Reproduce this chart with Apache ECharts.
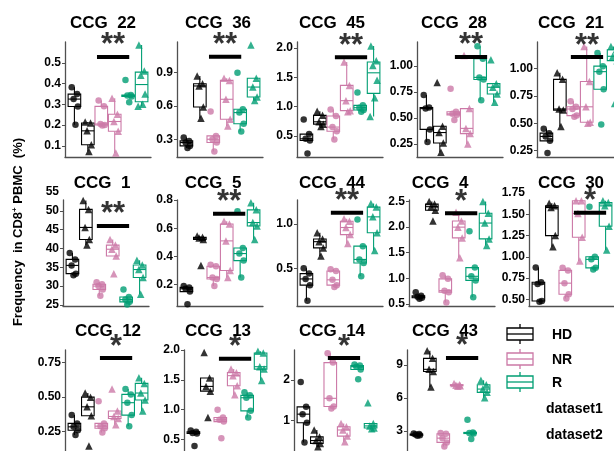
<!DOCTYPE html>
<html><head><meta charset="utf-8">
<script src="https://cdn.jsdelivr.net/npm/echarts@6/dist/echarts.min.js"></script>
<style>html,body{margin:0;padding:0;background:#fff}#c{width:614px;height:451px}</style>
</head><body><div id="c"></div>
<script>
// ---------------- DATA ----------------
const GROUPS = ['HD', 'NR', 'R'];
const DATASETS = ['dataset1', 'dataset2'];
const PANEL_TITLES = ['CCG  22','CCG  36','CCG  45','CCG  28','CCG  21',
                      'CCG  1','CCG  5','CCG  44','CCG  4','CCG  30',
                      'CCG  12','CCG  13','CCG  14','CCG  43'];
// order in each panel: HD d1, HD d2, NR d1, NR d2, R d1, R d2
const CCG22 = [[0.382,0.349,0.325,0.289,0.201],[0.215,0.21,0.172,0.105,0.073],[0.318,0.29,0.205,0.2,0.198],[0.329,0.252,0.217,0.17,0.065],[0.417,0.345,0.342,0.338,0.31],[0.586,0.46,0.44,0.35,0.3,0.29]];
const CCG36 = [[0.315,0.285,0.27,0.24,0.22],[0.87,0.8,0.78,0.59,0.49],[0.55,0.33,0.3,0.27,0.19],[0.85,0.83,0.66,0.48,0.42],[0.9,0.57,0.54,0.44,0.37],[1.15,0.85,0.77,0.68,0.65]];
const CCG45 = [[0.78,0.53,0.45,0.42,0.2],[0.92,0.85,0.74,0.7,0.66],[0.95,0.84,0.65,0.58,0.44],[1.76,1.36,1.1,0.93,0.91],[1.24,1.02,0.98,0.94,0.91],[2.03,1.78,1.7,1.45,1.15,0.83]];
const CCG28 = [[0.72,0.6,0.59,0.39,0.27],[0.84,0.42,0.36,0.26,0.17],[0.78,0.56,0.54,0.53,0.48],[1.1,0.59,0.40,0.35,0.25],[1.19,1.07,0.89,0.87,0.67],[1.06,0.83,0.795,0.73,0.65]];
const CCG21 = [[0.45,0.41,0.38,0.34,0.23],[0.96,0.9,0.63,0.62,0.47],[0.7,0.65,0.63,0.57,0.56],[1.2,0.88,0.65,0.51,0.5],[1.14,1.02,0.97,0.81,0.49],[1.2,1.17,1.11,1.07,0.68]];
const CCG1  = [[38.8,37.1,35.5,33.3,32.9],[52.8,50.4,45.6,42.4,40.9],[31,30.5,30,29.1,27.4],[42.4,40.9,39.8,38.0,33.3],[29.1,27.1,26.4,25.8,25.1],[36.9,35.6,34.4,32.3,27.8]];
const CCG5  = [[0.19,0.18,0.17,0.15,0.06],[0.545,0.535,0.53,0.52,0.335],[0.34,0.33,0.25,0.24,0.19],[0.65,0.63,0.51,0.3,0.25],[0.72,0.46,0.42,0.37,0.25],[0.78,0.73,0.64,0.616,0.52]];
const CCG44 = [[0.5,0.44,0.38,0.31,0.135],[0.9,0.83,0.8,0.73,0.64],[0.49,0.47,0.37,0.31,0.29],[1.06,1.03,0.96,0.88,0.78],[1.05,0.75,0.6,0.56,0.41],[1.23,1.19,1.08,0.9,0.7]];
const CCG4  = [[0.73,0.66,0.64,0.62,0.6],[2.5,2.45,2.4,2.33,2.12],[1.06,0.99,0.76,0.73,0.53],[2.29,2.12,2.0,1.79,1.4],[1.92,1.21,1.04,0.96,0.63],[2.5,2.27,2.08,1.77,1.64]];
const CCG30 = [[0.875,0.7,0.68,0.48,0.47],[1.63,1.6,1.58,1.25,1.12],[0.87,0.84,0.69,0.56,0.51],[1.66,1.66,1.51,1.23,0.95],[1.59,1.0,0.97,0.87,0.85],[1.66,1.64,1.6,1.36,1.08]];
const CCG12 = [[0.37,0.31,0.285,0.26,0.225],[0.53,0.5,0.43,0.365,0.146],[0.47,0.31,0.29,0.275,0.243],[0.56,0.4,0.36,0.345,0.3],[0.56,0.52,0.46,0.37,0.29],[0.64,0.6,0.53,0.48,0.4]];
const CCG13 = [[0.65,0.63,0.61,0.6,0.39],[1.96,1.53,1.39,1.31,0.87],[1.0,0.87,0.83,0.8,0.52],[1.68,1.62,1.57,1.4,1.25],[1.29,1.24,1.2,0.98,0.87],[1.98,1.95,1.72,1.68,1.49]];
const CCG14 = [[1.95,1.34,1.16,0.95,0.46],[0.77,0.6,0.51,0.44,0.36],[2.66,2.43,1.55,1.35,1.3],[0.93,0.85,0.77,0.62,0.48],[2.38,2.36,2.33,2.26,2.02],[1.44,0.93,0.87,0.82,0.8]];
const CCG43 = [[2.75,2.7,2.65,2.6,2.55],[10.3,9.6,8.6,8.4,7.0],[2.8,2.73,2.33,1.94,1.57],[7.3,7.2,7.15,7.1,7.05],[4.0,2.85,2.8,2.75,2.25],[7.6,7.2,6.8,6.5,6.0]];
const PANEL_DATA = [CCG22,CCG36,CCG45,CCG28,CCG21,CCG1,CCG5,CCG44,CCG4,CCG30,CCG12,CCG13,CCG14,CCG43];

const Y_MIN = [0.046,0.14,0.14,0.125,0.193, 24.7,0.048,0.075,0.46,0.421, 0.059,0.19,0.08,0.52];
const Y_MAX = [0.6,1.176,2.1,1.23,1.24, 52.9,0.8,1.27,2.53,1.669, 0.842,2.0,2.74,10.36];
const TICK_LABELS = [
  ['0.1','0.2','0.3','0.4','0.5'], ['0.3','0.6','0.9'], ['0.5','1.0','1.5','2.0'],
  ['0.25','0.50','0.75','1.00'], ['0.25','0.50','0.75','1.00'],
  ['25','30','35','40','45','50'], ['0.2','0.4','0.6','0.8'], ['0.5','1.0'],
  ['0.5','1.0','1.5','2.0','2.5'], ['0.50','0.75','1.00','1.25','1.50'],
  ['0.25','0.50','0.75'], ['0.5','1.0','1.5','2.0'], ['1','2'], ['3','6','9']
];
const EXTRA_TICK = [null,null,null,null,null,'55',null,null,null,'1.75',null,null,null,null];
const SIG_LABEL = ['**','**','**','**','**','**','**','**','*','*','*','*','*','*'];
const SIG_Y  = [0.528,1.044,1.84,1.087,1.103, 46,0.702,1.127,2.27,1.52, 0.784,1.855,2.54,9.64];
const SIG_X0 = [1.59,1.59,1.81,1.81,1.66, 1.66,1.74,1.66,1.74,2.07, 1.7,1.7,1.66,1.85];

// ---------------- LAYOUT / STYLE ----------------
const COLORS = {HD:'#000000', NR:'#CC79A7', R:'#009E73'};
const PANEL_LEFT = [65,177,297,417,537, 63,177,297,409,529, 65,184,294,407];
const TITLE_DX   = [38,41,35,37,34, 39,36,35,31,42, 43,34,38,38];
const PANEL_ROW  = [0,0,0,0,0, 1,1,1,1,1, 2,2,2,2];
const ROW_TOP = [42,200,350], ROW_BOTTOM = [157,306,458], ROW_TITLE_Y = [23,183,331];
const PANEL_W = 86;
const SUB_OFF = [-0.25, 0.25];
const JITTER = [-0.1, 0.1, -0.03, 0.13, 0.04, -0.13];
const SIG_LEN = 1.2;
const BOX_HALF = 6.3;
const FONT = "'Liberation Sans', Arial, Helvetica, sans-serif";
const AXIS_COLOR = '#505050';

function quant(s, p) { const h = (s.length - 1) * p, lo = Math.floor(h), hi = Math.min(lo + 1, s.length - 1); return s[lo] + (h - lo) * (s[hi] - s[lo]); }
function boxStats(vals) {
  const s = vals.slice().sort((a, b) => a - b);
  const q1 = quant(s, .25), med = quant(s, .5), q3 = quant(s, .75), iqr = q3 - q1;
  const lo = s.find(v => v >= q1 - 1.5 * iqr);
  const hi = s.slice().reverse().find(v => v <= q3 + 1.5 * iqr);
  return [lo, q1, med, q3, hi];
}
const COLOR_LIST = GROUPS.map(g => COLORS[g]);

function renderBox(params, api) {
  const x = api.value(0), col = COLOR_LIST[api.value(6)];
  const pLo = api.coord([x, api.value(1)]), pQ1 = api.coord([x, api.value(2)]);
  const pMed = api.coord([x, api.value(3)]), pQ3 = api.coord([x, api.value(4)]), pHi = api.coord([x, api.value(5)]);
  const cx = pMed[0];
  const ls = {stroke: col, lineWidth: 1.1};
  return {type: 'group', children: [
    {type: 'line', shape: {x1: cx, y1: pLo[1], x2: cx, y2: pQ1[1]}, style: ls},
    {type: 'line', shape: {x1: cx, y1: pQ3[1], x2: cx, y2: pHi[1]}, style: ls},
    {type: 'rect', shape: {x: cx - BOX_HALF, y: pQ3[1], width: 2 * BOX_HALF, height: pQ1[1] - pQ3[1]}, style: {fill: '#fff', stroke: col, lineWidth: 1.1}},
    {type: 'line', shape: {x1: cx - BOX_HALF, y1: pMed[1], x2: cx + BOX_HALF, y2: pMed[1]}, style: ls}
  ]};
}

const grids = [], xAxes = [], yAxes = [], series = [], graphics = [];
PANEL_DATA.forEach((pd, i) => {
  const r = PANEL_ROW[i];
  grids.push({left: PANEL_LEFT[i], top: ROW_TOP[r], width: PANEL_W, height: ROW_BOTTOM[r] - ROW_TOP[r], containLabel: false, outerBoundsMode: 'none'});
  xAxes.push({type: 'value', gridIndex: i, min: 0.4, max: 3.6,
    axisLine: {show: true, onZero: false, lineStyle: {color: AXIS_COLOR, width: 1.3}},
    axisTick: {show: false}, axisLabel: {show: false}, splitLine: {show: false}});
  const labels = TICK_LABELS[i];
  const vals = labels.map(Number);
  yAxes.push({type: 'value', gridIndex: i, min: Y_MIN[i], max: Y_MAX[i],
    axisLine: {show: true, onZero: false, lineStyle: {color: AXIS_COLOR, width: 1.3}},
    axisTick: {show: true, length: 3, customValues: vals, lineStyle: {color: AXIS_COLOR, width: 1}},
    axisLabel: {show: true, customValues: vals, margin: 4, color: '#000', fontSize: 12, fontWeight: 'bold', fontFamily: FONT,
      formatter: v => { const k = vals.findIndex(t => Math.abs(t - v) < 1e-9); return k >= 0 ? labels[k] : ''; }},
    splitLine: {show: false}});

  const boxData = [], pts = [];
  pd.forEach((arr, k) => {
    const g = Math.floor(k / 2), d = k % 2;
    const x = g + 1 + SUB_OFF[d];
    const col = COLORS[GROUPS[g]];
    boxData.push([x].concat(boxStats(arr), [g]));
    arr.forEach((v, j) => {
      pts.push({value: [x + JITTER[j % JITTER.length], v], symbol: d === 0 ? 'circle' : 'triangle',
        symbolSize: d === 0 ? 6.5 : 7.5, itemStyle: {color: col}});
    });
  });
  series.push({type: 'custom', xAxisIndex: i, yAxisIndex: i, renderItem: renderBox, data: boxData, clip: true,
    encode: {x: 0, y: [1, 2, 3, 4, 5]}, silent: true, z: 2, animation: false});
  series.push({type: 'scatter', xAxisIndex: i, yAxisIndex: i, data: pts, clip: true, silent: true, z: 3, animation: false});
  series.push({type: 'line', xAxisIndex: i, yAxisIndex: i, data: [[SIG_X0[i], SIG_Y[i]], [SIG_X0[i] + SIG_LEN, SIG_Y[i]]],
    symbol: 'none', clip: false, silent: true, z: 4, lineStyle: {color: '#000', width: 4}, animation: false});
  series.push({type: 'scatter', xAxisIndex: i, yAxisIndex: i, data: [[SIG_X0[i] + SIG_LEN / 2, SIG_Y[i]]], clip: false,
    symbolSize: 1, itemStyle: {color: 'rgba(0,0,0,0)'}, silent: true, z: 5, animation: false,
    label: {show: true, formatter: SIG_LABEL[i], position: 'top', distance: 0, offset: [0, 5], color: '#000',
      fontSize: 31, fontWeight: 'bold', fontFamily: FONT}});

  graphics.push({type: 'text', x: PANEL_LEFT[i] + TITLE_DX[i], y: ROW_TITLE_Y[r], silent: true,
    style: {text: PANEL_TITLES[i], fill: '#000', font: 'bold 17px ' + FONT, align: 'center', verticalAlign: 'middle'}});
});

// y axis title
graphics.push({type: 'text', x: 18, y: 232, rotation: Math.PI / 2, silent: true,
  style: {text: '{a|Frequency  in CD8}{s|+}{a| PBMC  (%)}', fill: '#000', align: 'center', verticalAlign: 'middle',
    rich: {a: {fontSize: 13, fontWeight: 'bold', fontFamily: FONT, fill: '#000'},
           s: {fontSize: 8, fontWeight: 'bold', fontFamily: FONT, fill: '#000', padding: [0, 0, 7, 0]}}}});

// legend
const LEG_Y = [334, 359, 382];
GROUPS.forEach((g, k) => {
  const cy = LEG_Y[k], col = COLORS[g];
  graphics.push({type: 'line', silent: true, shape: {x1: 520, y1: cy - 10, x2: 520, y2: cy + 10}, style: {stroke: col, lineWidth: 1.3}});
  graphics.push({type: 'rect', silent: true, shape: {x: 507, y: cy - 6, width: 26, height: 12}, style: {fill: '#fff', stroke: col, lineWidth: 1.3}});
  graphics.push({type: 'line', silent: true, shape: {x1: 507, y1: cy, x2: 533, y2: cy}, style: {stroke: col, lineWidth: 1.3}});
  graphics.push({type: 'text', silent: true, x: 552, y: cy + 1, style: {text: g, fill: '#000', font: 'bold 14px ' + FONT, align: 'left', verticalAlign: 'middle'}});
});
DATASETS.forEach((d, k) => {
  graphics.push({type: 'text', silent: true, x: 546, y: 409 + k * 26, style: {text: d, fill: '#000', font: 'bold 14px ' + FONT, align: 'left', verticalAlign: 'middle'}});
});

const chart = echarts.init(document.getElementById('c'), null, {renderer: 'canvas', width: 614, height: 451});
const option = {animation: false, backgroundColor: '#fff', grid: grids, xAxis: xAxes, yAxis: yAxes, series: series, graphic: graphics};
chart.setOption(option);

// extra tick labels that sit above the axis top
EXTRA_TICK.forEach((t, i) => {
  if (!t) return;
  const p = chart.convertToPixel({gridIndex: i}, [0.4, Number(t)]);
  graphics.push({type: 'text', silent: true, x: PANEL_LEFT[i] - 4, y: p[1],
    style: {text: t, fill: '#000', font: 'bold 12px ' + FONT, align: 'right', verticalAlign: 'middle'}});
});
chart.setOption({graphic: graphics});
</script>
</body></html>
